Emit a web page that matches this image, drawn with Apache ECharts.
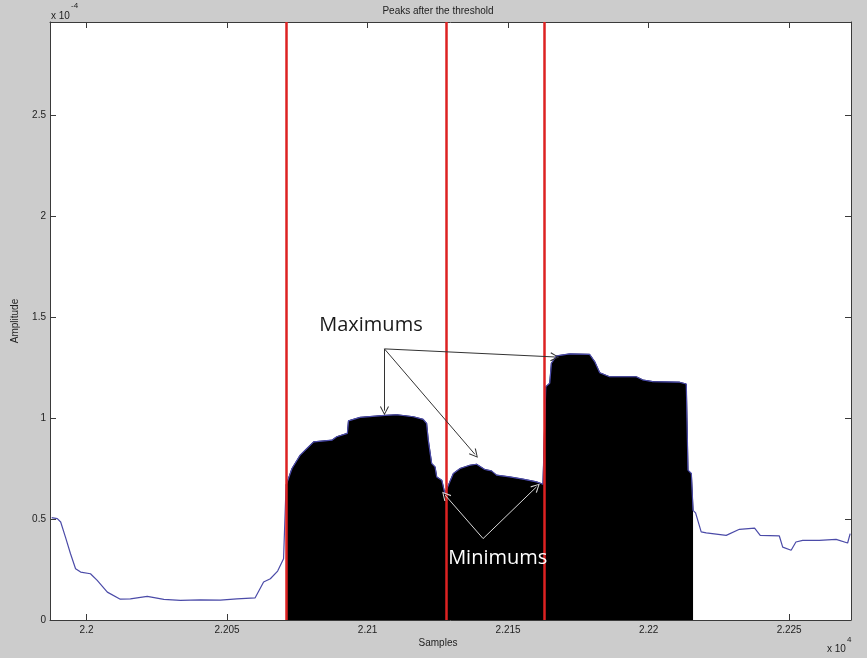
<!DOCTYPE html>
<html>
<head>
<meta charset="utf-8">
<script src="https://cdn.jsdelivr.net/npm/echarts@6/dist/echarts.min.js"></script>
<style>
  html, body { margin: 0; padding: 0; background: #cccccc; }
  #chart { width: 867px; height: 658px; }
</style>
</head>
<body>
<div id="chart"></div>
<script>
// Signal: sample index and amplitude (amplitude in units of 1e-4)
const sampleIdx = [
  21987.6, 21989.6, 21990.8, 21992.5, 21994.3, 21996.1, 21997.9, 22001.4, 22003.8, 22007.4,
  22012.0, 22015.6, 22021.6, 22027.5, 22033.4, 22040.5, 22047.6, 22053.5, 22060.0, 22063.0,
  22065.4, 22068.0, 22070.1,
  22071.0, 22073.1, 22076.0, 22078.4, 22080.8, 22087.3, 22089.0, 22092.8, 22093.2, 22097.3,
  22106.2, 22110.4, 22116.3, 22119.8, 22121.0, 22121.6, 22122.8, 22124.0, 22124.6, 22126.4,
  22127.5, 22128.5, 22130.5, 22132.9, 22136.4, 22138.8, 22141.7, 22144.1, 22145.9, 22150.6,
  22155.3, 22160.1, 22162.4, 22163.4, 22164.8, 22165.4, 22167.2, 22171.9, 22179.0, 22180.8,
  22182.6, 22186.1, 22195.6, 22198.0, 22201.5, 22211.0, 22213.4, 22214.0, 22215.2, 22215.8,
  22216.7, 22218.7, 22220.5, 22227.6, 22232.3, 22237.7, 22239.7, 22246.5, 22247.7, 22250.7,
  22252.4, 22254.8, 22260.7, 22266.7, 22270.8, 22271.7
];
const amplitude = [
  0.507, 0.502, 0.485, 0.410, 0.328, 0.254, 0.237, 0.229, 0.196, 0.138,
  0.103, 0.105, 0.117, 0.102, 0.097, 0.100, 0.098, 0.105, 0.110, 0.188,
  0.204, 0.242, 0.303,
  0.667, 0.750, 0.816, 0.849, 0.882, 0.890, 0.907, 0.924, 0.986, 1.003,
  1.013, 1.016, 1.006, 0.993, 0.973, 0.890, 0.775, 0.758, 0.708, 0.692,
  0.626, 0.659, 0.725, 0.750, 0.766, 0.771, 0.745, 0.738, 0.717, 0.708,
  0.697, 0.684, 0.672, 1.155, 1.172, 1.271, 1.307, 1.317, 1.315, 1.279,
  1.224, 1.204, 1.204, 1.188, 1.180, 1.177, 1.168, 0.742, 0.725, 0.543,
  0.530, 0.436, 0.431, 0.419, 0.449, 0.455, 0.419, 0.416, 0.361, 0.345,
  0.386, 0.394, 0.394, 0.399, 0.381, 0.428
];

// Samples kept after the threshold (filled black)
const peakStart = 22071;
const peakEnd = 22216;
// Segment boundaries (red vertical lines)
const boundaries = [22071, 22128, 22163];

// Axes
const xRange = [21987, 22272];
const yRange = [0, 2.96];
const xTicks = [22000, 22050, 22100, 22150, 22200, 22250];
const yTicks = [0, 0.5, 1, 1.5, 2, 2.5];

// Annotations, in data coordinates [sample, amplitude]
const maxLabelAt = [22101.2, 1.461];
const maxArrowFrom = [22106, 1.342];
const maxArrowTo = [[22106, 1.036], [22138.2, 0.82], [22166.6, 1.302]];
const minLabelAt = [22146.3, 0.305];
const minArrowFrom = [22141.1, 0.403];
const minArrowTo = [[22127.6, 0.618], [22160.1, 0.659]];

const signal = sampleIdx.map((s, i) => [s, amplitude[i]]);
const kept = signal.filter(p => p[0] >= peakStart && p[0] <= peakEnd);

const textColor = '#222222';
const axisColor = '#3a3a3a';
const chevron = 'path://M5,0 L10,10 L9,10.8 L5,2.4 L1,10.8 L0,10 Z';

function xFmt(v) { return String(parseFloat((v / 10000).toFixed(4))); }

function axisCommon(extra) {
  return Object.assign({
    type: 'value',
    axisLine: { show: true, onZero: false, lineStyle: { color: axisColor, width: 1 } },
    splitLine: { show: false },
  }, extra);
}

const chart = echarts.init(document.getElementById('chart'), null, { renderer: 'canvas' });

const option = {
  animation: false,
  backgroundColor: '#cccccc',
  textStyle: { fontFamily: 'Liberation Sans, Arial, sans-serif' },
  grid: {
    left: 50, right: 16, top: 22, bottom: 38,
    show: true, backgroundColor: '#ffffff', borderWidth: 0
  },
  xAxis: [
    axisCommon({
      position: 'bottom', min: xRange[0], max: xRange[1],
      axisTick: { inside: true, length: 6, customValues: xTicks, lineStyle: { color: axisColor } },
      axisLabel: { customValues: xTicks, formatter: xFmt, margin: 5, color: textColor, fontSize: 10 }
    }),
    axisCommon({
      position: 'top', min: xRange[0], max: xRange[1],
      axisTick: { inside: true, length: 6, customValues: xTicks, lineStyle: { color: axisColor } },
      axisLabel: { show: false }
    })
  ],
  yAxis: [
    axisCommon({
      position: 'left', min: yRange[0], max: yRange[1],
      name: 'Amplitude', nameLocation: 'middle', nameGap: 30,
      nameTextStyle: { color: textColor, fontSize: 10 },
      axisTick: { inside: true, length: 6, customValues: yTicks, lineStyle: { color: axisColor } },
      axisLabel: { customValues: yTicks, margin: 4, color: textColor, fontSize: 10 }
    }),
    axisCommon({
      position: 'right', min: yRange[0], max: yRange[1],
      axisTick: { inside: true, length: 6, customValues: yTicks, lineStyle: { color: axisColor } },
      axisLabel: { show: false }
    })
  ],
  series: [
    {
      name: 'kept', type: 'line', data: kept, showSymbol: false, z: 2,
      lineStyle: { color: '#14143c', width: 1 },
      areaStyle: { color: '#000000', opacity: 1 }
    },
    {
      name: 'signal', type: 'line', data: signal, showSymbol: false, z: 3,
      lineStyle: { color: '#4b4ba8', width: 1.2 }
    },
    {
      name: 'boundaries', type: 'line', data: [], z: 4,
      markLine: {
        silent: true, symbol: 'none', animation: false,
        lineStyle: { color: '#dd2222', width: 2.5, type: 'solid' },
        label: { show: false },
        data: boundaries.map(v => ({ xAxis: v }))
      }
    },
    {
      name: 'maxArrows', type: 'line', data: [], z: 5,
      markLine: {
        silent: true, animation: false,
        symbol: ['none', chevron], symbolSize: [9, 9],
        lineStyle: { color: '#333333', width: 1, type: 'solid' },
        label: { show: false },
        data: maxArrowTo.map(t => [{ coord: maxArrowFrom }, { coord: t }])
      }
    },
    {
      name: 'minArrows', type: 'line', data: [], z: 5,
      markLine: {
        silent: true, animation: false,
        symbol: ['none', chevron], symbolSize: [9, 9],
        lineStyle: { color: '#d8d8d8', width: 1, type: 'solid' },
        label: { show: false },
        data: minArrowTo.map(t => [{ coord: minArrowFrom }, { coord: t }])
      }
    }
  ]
};
chart.setOption(option);

// Free-standing labels placed through the chart's own scales
const maxPx = chart.convertToPixel({ gridIndex: 0 }, maxLabelAt);
const minPx = chart.convertToPixel({ gridIndex: 0 }, minLabelAt);
const small = { fontSize: 10, fontFamily: 'Liberation Sans, Arial, sans-serif', fill: textColor };

chart.setOption({
  graphic: [
    { type: 'text', x: 438, y: 11, style: Object.assign({ text: 'Peaks after the threshold', align: 'center', verticalAlign: 'middle' }, small) },
    { type: 'text', x: 438, y: 643, style: Object.assign({ text: 'Samples', align: 'center', verticalAlign: 'middle' }, small) },
    { type: 'text', x: 51, y: 16, style: Object.assign({ text: 'x 10', align: 'left', verticalAlign: 'middle' }, small) },
    { type: 'text', x: 71, y: 6, style: Object.assign({}, small, { text: '-4', fontSize: 8, align: 'left', verticalAlign: 'middle' }) },
    { type: 'text', x: 827, y: 649, style: Object.assign({ text: 'x 10', align: 'left', verticalAlign: 'middle' }, small) },
    { type: 'text', x: 847, y: 640, style: Object.assign({}, small, { text: '4', fontSize: 8, align: 'left', verticalAlign: 'middle' }) },
    { type: 'text', x: maxPx[0], y: maxPx[1], z: 10, style: { text: 'Maximums', align: 'center', verticalAlign: 'middle', fontSize: 20, fontFamily: 'Open Sans, sans-serif', fill: '#1a1a1a' } },
    { type: 'text', x: minPx[0], y: minPx[1], z: 10, style: { text: 'Minimums', align: 'center', verticalAlign: 'middle', fontSize: 20, fontFamily: 'Open Sans, sans-serif', fill: '#ffffff' } }
  ]
});
</script>
</body>
</html>
